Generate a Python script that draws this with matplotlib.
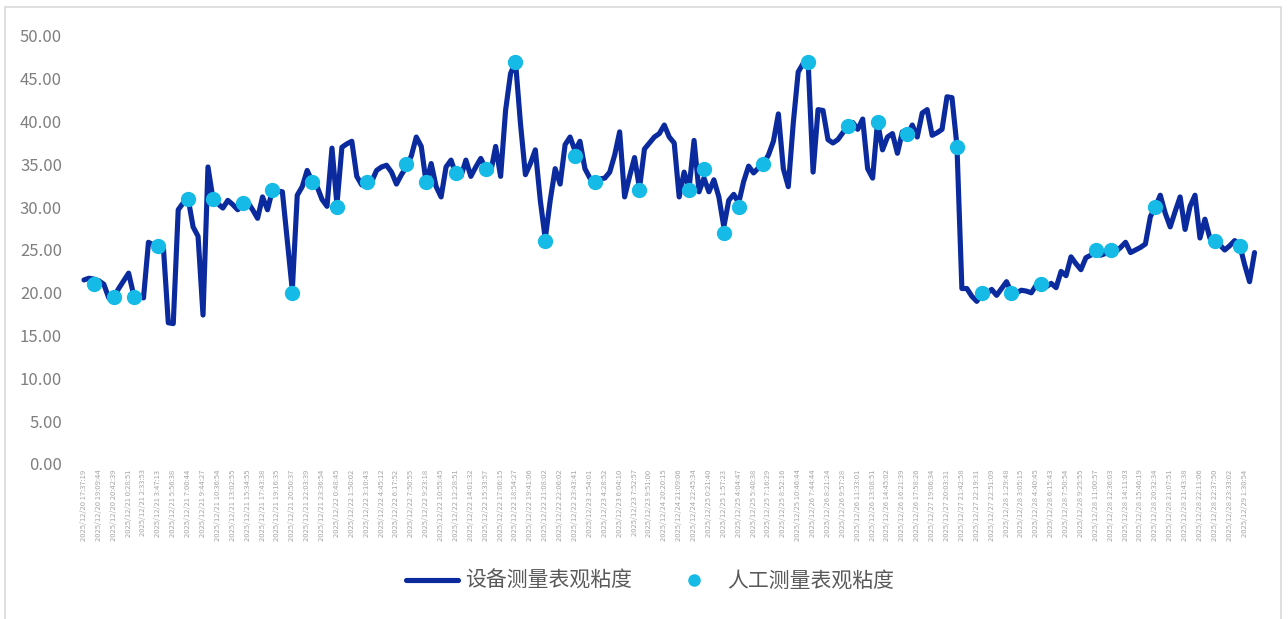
import matplotlib
matplotlib.use("Agg")
import matplotlib.pyplot as plt
from matplotlib.patches import Rectangle
from matplotlib.lines import Line2D

plt.rcParams['font.family'] = ['Noto Sans CJK SC', 'DejaVu Sans']

# ---------------- data ----------------
tick_labels = [
    "2025/12/20 17:37:19", "2025/12/20 19:09:44", "2025/12/20 20:42:39", "2025/12/21 0:28:51",
    "2025/12/21 2:33:53", "2025/12/21 3:47:13", "2025/12/21 5:56:38", "2025/12/21 7:00:44",
    "2025/12/21 9:44:27", "2025/12/21 10:36:54", "2025/12/21 13:02:55", "2025/12/21 15:34:55",
    "2025/12/21 17:43:38", "2025/12/21 19:16:35", "2025/12/21 20:50:37", "2025/12/21 22:03:39",
    "2025/12/21 23:36:54", "2025/12/22 0:48:45", "2025/12/22 1:50:02", "2025/12/22 3:10:43",
    "2025/12/22 4:45:12", "2025/12/22 6:17:52", "2025/12/22 7:50:55", "2025/12/22 9:23:18",
    "2025/12/22 10:55:45", "2025/12/22 12:28:51", "2025/12/22 14:01:32", "2025/12/22 15:33:57",
    "2025/12/22 17:06:15", "2025/12/22 18:54:27", "2025/12/22 19:41:06", "2025/12/22 21:08:02",
    "2025/12/22 22:06:02", "2025/12/22 23:43:41", "2025/12/23 2:54:01", "2025/12/23 4:28:52",
    "2025/12/23 6:04:10", "2025/12/23 7:52:57", "2025/12/23 9:51:00", "2025/12/24 20:20:15",
    "2025/12/24 21:09:06", "2025/12/24 22:45:34", "2025/12/25 0:21:40", "2025/12/25 1:57:23",
    "2025/12/25 4:04:47", "2025/12/25 5:40:38", "2025/12/25 7:16:29", "2025/12/25 8:52:16",
    "2025/12/25 10:46:44", "2025/12/26 7:44:44", "2025/12/26 8:21:24", "2025/12/26 9:57:28",
    "2025/12/26 11:33:01", "2025/12/26 13:08:51", "2025/12/26 14:45:02", "2025/12/26 16:21:39",
    "2025/12/26 17:58:26", "2025/12/27 19:06:34", "2025/12/27 20:03:31", "2025/12/27 21:42:58",
    "2025/12/27 22:19:31", "2025/12/27 22:51:09", "2025/12/28 1:29:48", "2025/12/28 3:05:15",
    "2025/12/28 4:40:45", "2025/12/28 6:15:43", "2025/12/28 7:50:54", "2025/12/28 9:25:55",
    "2025/12/28 11:00:57", "2025/12/28 12:36:03", "2025/12/28 14:11:03", "2025/12/28 15:46:19",
    "2025/12/28 20:32:34", "2025/12/28 21:07:51", "2025/12/28 21:43:38", "2025/12/28 22:11:06",
    "2025/12/28 22:37:50", "2025/12/28 23:33:02", "2025/12/29 1:30:54",
]
label_step = 3  # one label every 3 categories

device_values = [
    21.5, 21.7, 21.6, 21.4, 21.0, 19.4, 19.5, 20.5, 21.4, 22.3,
    19.8, 19.6, 19.4, 25.9, 25.6, 25.5, 25.4, 16.5, 16.4, 29.7,
    30.5, 31.0, 27.7, 26.6, 17.4, 34.7, 31.0, 30.4, 29.9, 30.8,
    30.3, 29.7, 30.4, 30.6, 29.7, 28.7, 31.2, 29.7, 32.0, 31.9,
    31.8, 26.0, 20.3, 31.4, 32.4, 34.3, 33.0, 32.4, 30.9, 30.1,
    36.9, 30.3, 37.0, 37.4, 37.7, 33.6, 32.6, 33.0, 33.0, 34.3,
    34.7, 34.9, 34.1, 32.7, 33.8, 34.7, 36.0, 38.2, 37.1, 32.8,
    35.1, 32.4, 31.2, 34.7, 35.5, 33.8, 33.6, 35.5, 33.6, 34.7,
    35.7, 34.5, 34.1, 37.1, 33.6, 41.3, 45.6, 47.0, 39.8, 33.8,
    35.1, 36.7, 30.8, 26.3, 30.8, 34.5, 32.7, 37.3, 38.2, 36.6,
    37.7, 34.5, 33.4, 33.0, 33.3, 33.4, 34.1, 36.1, 38.8, 31.2,
    33.6, 35.8, 32.2, 36.8, 37.5, 38.2, 38.6, 39.6, 38.2, 37.5,
    31.2, 34.1, 32.2, 37.8, 31.8, 33.4, 31.8, 33.2, 31.2, 27.7,
    30.8, 31.5, 30.5, 33.0, 34.8, 34.0, 34.6, 35.1, 36.1, 37.7,
    40.9, 34.5, 32.4, 39.8, 45.8, 46.8, 47.0, 34.1, 41.4, 41.3,
    37.9, 37.5, 37.9, 38.7, 39.5, 39.9, 39.1, 40.3, 34.5, 33.4,
    40.0, 36.7, 38.2, 38.6, 36.3, 38.8, 38.4, 39.6, 38.2, 41.0,
    41.4, 38.4, 38.7, 39.1, 42.9, 42.8, 37.2, 20.5, 20.5, 19.6,
    19.0, 19.9, 19.9, 20.4, 19.7, 20.5, 21.3, 20.0, 20.0, 20.3,
    20.2, 20.0, 20.9, 20.9, 20.7, 21.1, 20.6, 22.5, 22.0, 24.2,
    23.4, 22.7, 24.1, 24.4, 24.7, 24.4, 24.6, 24.9, 24.8, 25.3,
    25.9, 24.7, 25.0, 25.3, 25.7, 28.9, 30.0, 31.4, 29.3, 27.7,
    29.5, 31.2, 27.4, 30.1, 31.4, 26.4, 28.6, 26.4, 26.0, 25.6,
    25.0, 25.5, 26.1, 25.6, 23.3, 21.3, 24.7,
]

manual_idx = [2, 6, 10, 15, 21, 26, 32, 38, 42, 46, 51, 57, 65, 69, 75, 81, 87,
              93, 99, 103, 112, 122, 125, 129, 132, 137, 146, 154, 160, 166, 176,
              181, 187, 193, 204, 207, 216, 228, 233]
manual_values = [21.0, 19.5, 19.5, 25.5, 31.0, 31.0, 30.5, 32.0, 20.0, 33.0, 30.0,
                 33.0, 35.0, 33.0, 34.0, 34.5, 47.0, 26.0, 36.0, 33.0, 32.0, 32.0,
                 34.5, 27.0, 30.0, 35.0, 47.0, 39.5, 40.0, 38.5, 37.0, 20.0, 20.0,
                 21.0, 25.0, 25.0, 30.0, 26.0, 25.5]

series_names = ["设备测量表观粘度", "人工测量表观粘度"]
y_ticks = [0, 5, 10, 15, 20, 25, 30, 35, 40, 45, 50]

# ---------------- style ----------------
W, H = 1288, 619
line_color = "#0a2a9e"
dot_color = "#15bbe6"
text_gray = "#7f7f7f"

fig = plt.figure(figsize=(W / 100, H / 100), dpi=100)
fig.patch.set_facecolor("white")

# outer chart border (bottom edge falls outside the image)
fig.add_artist(Rectangle((5 / W, -10 / H), 1276 / W, (612 + 10) / H,
                         transform=fig.transFigure, fill=False,
                         edgecolor="#d9d9d9", linewidth=1.2))

left, right = 81.5 / W, 1257 / W
bottom, top = (H - 464) / H, (H - 36) / H
ax = fig.add_axes([left, bottom, right - left, top - bottom])

n = len(device_values)
xs = list(range(n))
ax.plot(xs, device_values, color=line_color, linewidth=3.7,
        solid_joinstyle="round", solid_capstyle="round", zorder=2, clip_on=False)
ax.plot(manual_idx, manual_values, linestyle="none", marker="o", markersize=10,
        markerfacecolor=dot_color, markeredgecolor=dot_color, zorder=3, clip_on=False)

ax.set_xlim(-0.5, n - 0.5)
ax.set_ylim(0, 50)
ax.set_yticks(y_ticks)
ax.set_yticklabels([f"{v:.2f}" for v in y_ticks], fontsize=12, color=text_gray)
tick_pos = [i * label_step for i in range(len(tick_labels))]
ax.set_xticks(tick_pos)
ax.set_xticklabels(tick_labels, rotation=90, fontsize=5.5, color="#a6a6a6")
ax.tick_params(axis="y", length=0, pad=14)
ax.tick_params(axis="x", length=0, pad=4)
for s in ax.spines.values():
    s.set_visible(False)

handles = [
    Line2D([0], [0], color=line_color, linewidth=3.7, solid_capstyle="round"),
    Line2D([0], [0], linestyle="none", marker="o", markersize=8,
           markerfacecolor=dot_color, markeredgecolor=dot_color),
]
leg = fig.legend(handles, series_names, loc="center",
                 bbox_to_anchor=(650 / W, 1 - 581 / H), ncol=2, frameon=False,
                 fontsize=15, handlelength=2.5, handletextpad=0.35,
                 columnspacing=1.7)
for t in leg.get_texts():
    t.set_color("#595959")

fig.savefig("out.png", dpi=100, facecolor="white")
